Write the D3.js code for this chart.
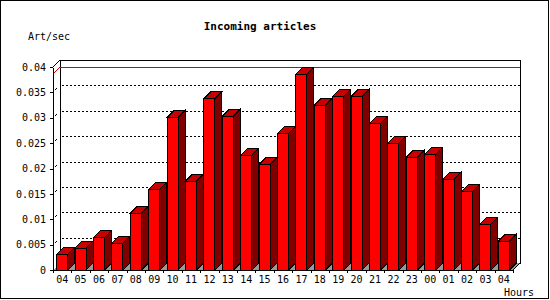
<!DOCTYPE html>
<html>
<head>
<meta charset="utf-8">
<script src="https://cdn.jsdelivr.net/npm/d3@7"></script>
<style>
  body { margin: 0; background: #fff; }
  text { font-family: "DejaVu Sans Mono", monospace; font-size: 10px; fill: #000; }
  .axis path, .axis line { stroke: #000; }
</style>
</head>
<body>
<div id="chart"></div>
<script>
'use strict';

var hours = ['04', '05', '06', '07', '08', '09', '10', '11', '12', '13', '14', '15', '16',
             '17', '18', '19', '20', '21', '22', '23', '00', '01', '02', '03', '04'];
var artPerSec = [0.0031, 0.0043, 0.0064, 0.0053, 0.0112, 0.0159, 0.0301, 0.0175, 0.0338,
                 0.0303, 0.0226, 0.0208, 0.0269, 0.0386, 0.0325, 0.0342, 0.0342, 0.0289,
                 0.0250, 0.0222, 0.0228, 0.0179, 0.0155, 0.0090, 0.0057];
var yTicks = [0, 0.005, 0.01, 0.015, 0.02, 0.025, 0.03, 0.035, 0.04];
var yTickLabels = ['0', '0.005', '0.01', '0.015', '0.02', '0.025', '0.03', '0.035', '0.04'];

var width = 550, height = 300;
var plotLeft = 53, plotRight = 513, plotBottom = 270, plotTop = 67;
var depth = 7;

var svg = d3.select('#chart').append('svg')
    .attr('width', width)
    .attr('height', height)
    .attr('shape-rendering', 'crispEdges');

// outer border
svg.append('rect')
    .attr('x', 0.5).attr('y', 0.5)
    .attr('width', 548).attr('height', 298)
    .attr('fill', '#fff').attr('stroke', '#000');

var idx = d3.range(hours.length);
var x = d3.scaleBand().domain(idx).range([plotLeft, plotRight]).paddingInner(0.4).paddingOuter(0.2);
var xEdge = d3.scaleLinear().domain([0, hours.length]).range([plotLeft, plotRight]);
var y = d3.scaleLinear().domain([0, 0.04]).range([plotBottom, plotTop]);
var bw = x.bandwidth();

// back wall
var g = svg.append('g');
g.append('rect')
    .attr('x', plotLeft + depth).attr('y', y(0.04) - depth)
    .attr('width', plotRight - plotLeft).attr('height', plotBottom - y(0.04))
    .attr('fill', '#fff').attr('stroke', '#000');

// floor
g.append('polygon')
    .attr('points', [[plotLeft, plotBottom], [plotLeft + depth, plotBottom - depth],
                     [plotRight + depth, plotBottom - depth], [plotRight, plotBottom]].join(' '))
    .attr('fill', '#999').attr('stroke', 'none');
g.append('line')
    .attr('x1', plotRight + depth).attr('y1', plotBottom - depth)
    .attr('x2', plotRight).attr('y2', plotBottom)
    .attr('stroke', '#000');

// grid lines on the back wall
var grid = yTicks.filter(function(d) { return d > 0 && d < 0.04; });
g.selectAll('.grid')
    .data(grid)
    .enter().append('line')
    .attr('class', 'grid')
    .attr('x1', plotLeft + depth + 2).attr('x2', plotRight + depth)
    .attr('y1', function(d) { return Math.round(y(d)) - depth; })
    .attr('y2', function(d) { return Math.round(y(d)) - depth; })
    .attr('stroke', '#000').attr('stroke-dasharray', '2,2');
g.selectAll('.gridside')
    .data(grid)
    .enter().append('line')
    .attr('class', 'gridside')
    .attr('x1', plotLeft + 2).attr('x2', plotLeft + 4)
    .attr('y1', function(d) { return Math.round(y(d)) - 2; })
    .attr('y2', function(d) { return Math.round(y(d)) - 4; })
    .attr('stroke', '#000');

// top-left corner
g.append('line')
    .attr('x1', plotLeft).attr('y1', y(0.04))
    .attr('x2', plotLeft + depth).attr('y2', y(0.04) - depth)
    .attr('stroke', '#000');

// max line
var maxVal = d3.max(artPerSec);
g.append('polyline')
    .attr('points', [[plotLeft, y(maxVal)], [plotLeft + depth, y(maxVal) - depth],
                     [plotRight + depth, y(maxVal) - depth]].join(' '))
    .attr('fill', 'none').attr('stroke', '#e00000');

// bars
var bars = svg.selectAll('.bar')
    .data(artPerSec)
    .enter().append('g')
    .attr('class', 'bar');

bars.append('polygon')
    .attr('points', function(d, i) {
        var x0 = x(i), y0 = y(d);
        return [[x0 + bw, y0], [x0 + bw + depth, y0 - depth],
                [x0 + bw + depth, plotBottom - depth], [x0 + bw, plotBottom]].join(' ');
    })
    .attr('fill', '#800000').attr('stroke', '#000');

bars.append('polygon')
    .attr('points', function(d, i) {
        var x0 = x(i), y0 = y(d);
        return [[x0, y0], [x0 + depth, y0 - depth], [x0 + bw + depth, y0 - depth], [x0 + bw, y0]].join(' ');
    })
    .attr('fill', '#c80000').attr('stroke', '#000');

bars.append('rect')
    .attr('x', function(d, i) { return x(i); })
    .attr('y', function(d) { return y(d); })
    .attr('width', bw)
    .attr('height', function(d) { return plotBottom - y(d); })
    .attr('fill', '#ff0000').attr('stroke', '#000');

// axes
svg.append('g')
    .attr('class', 'axis')
    .attr('transform', 'translate(' + plotLeft + ',0)')
    .call(d3.axisLeft(y).tickValues(yTicks).tickSizeInner(3).tickSizeOuter(0).tickPadding(4)
        .tickFormat(function(d, i) { return yTickLabels[i]; }));

svg.append('g')
    .attr('class', 'axis')
    .attr('transform', 'translate(0,' + plotBottom + ')')
    .call(d3.axisBottom(xEdge).tickValues(d3.range(hours.length + 1))
        .tickSizeInner(3).tickSizeOuter(0).tickFormat(''));

svg.append('g')
    .attr('class', 'axis')
    .attr('transform', 'translate(0,' + plotBottom + ')')
    .call(d3.axisBottom(x).tickSize(0).tickPadding(6).tickFormat(function(d) { return hours[d]; }))
    .call(function(s) { s.select('.domain').remove(); });

svg.selectAll('.axis text')
    .style('font-family', '"DejaVu Sans Mono", monospace')
    .style('font-size', '10px');

// titles
svg.append('text')
    .attr('x', 260).attr('y', 30)
    .attr('text-anchor', 'middle')
    .style('font-size', '11px').style('font-weight', 'bold')
    .text('Incoming articles');

svg.append('text')
    .attr('x', 28).attr('y', 40)
    .text('Art/sec');

svg.append('text')
    .attr('x', 534).attr('y', 296)
    .attr('text-anchor', 'end')
    .text('Hours');
</script>
</body>
</html>
